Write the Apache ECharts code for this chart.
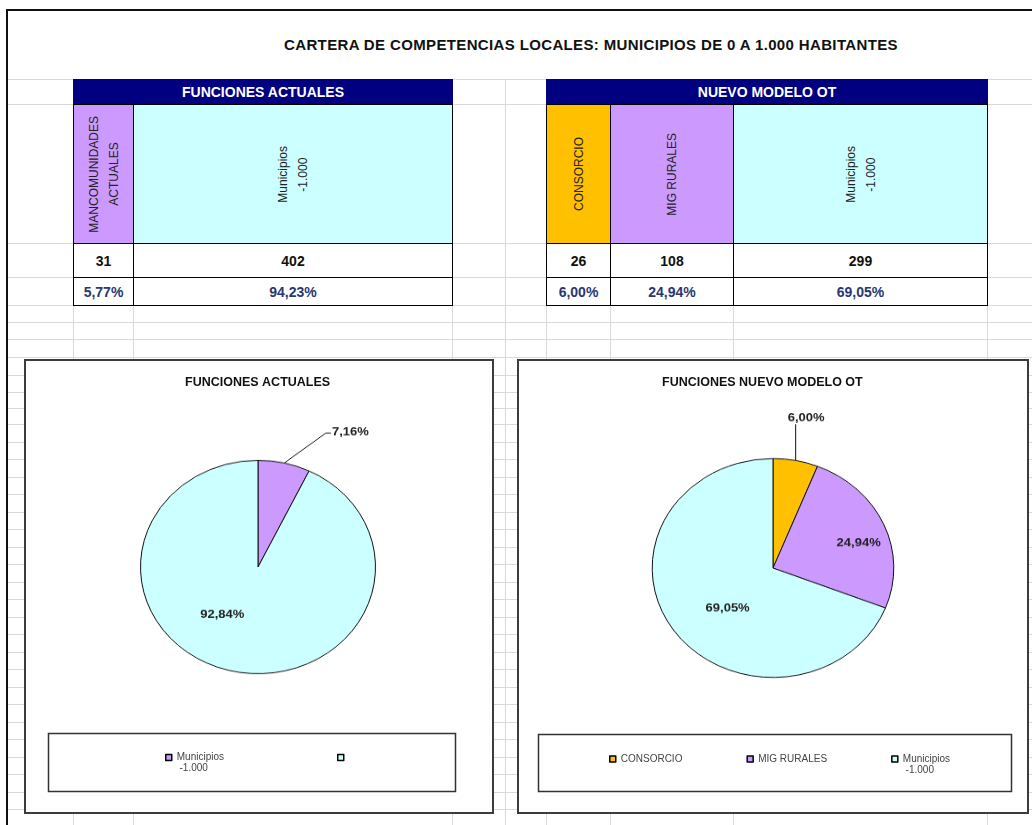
<!DOCTYPE html>
<html>
<head>
<meta charset="utf-8">
<title>Cartera de competencias locales</title>
<script src="https://cdn.jsdelivr.net/npm/echarts@6/dist/echarts.min.js"></script>
<style>
  html, body { margin: 0; padding: 0; background: #fff; }
  body { width: 1032px; height: 825px; position: relative; overflow: hidden;
         font-family: "Liberation Sans", Arial, Helvetica, sans-serif; }
  .linea { position: absolute; background: #dadada; }
  .celda { position: absolute; box-sizing: border-box; border: 1px solid #000;
           display: flex; align-items: center; justify-content: center; background: #fff; }
  .vert { writing-mode: vertical-rl; transform: rotate(180deg); white-space: pre;
          text-align: center; font-size: 12px; line-height: 20px; color: #222; }
  .valor { font-size: 14px; font-weight: bold; color: #111; }
  .pct { font-size: 14px; font-weight: bold; color: #2a3670; }
  .cabecera { position: absolute; background: #000080; color: #fff; font-size: 14px;
              font-weight: bold; display: flex; align-items: center; justify-content: center; }
  .panel { position: absolute; }
  .tarta { position: absolute; width: 360px; height: 400px; transform-origin: 50% 50%; }
</style>
</head>
<body>
<div id="hoja"></div>
<div id="titulo" style="position:absolute;left:191px;top:35px;width:800px;text-align:center;font-size:15px;font-weight:bold;color:#111;line-height:20px;letter-spacing:0.36px;">CARTERA DE COMPETENCIAS LOCALES: MUNICIPIOS DE 0 A 1.000 HABITANTES</div>
<div id="tablas"></div>
<div id="panel1" class="panel" style="left:24px;top:359px;width:470px;height:455px;"></div>
<div id="panel2" class="panel" style="left:517px;top:359px;width:512px;height:455px;"></div>
<div id="tarta1" class="tarta" style="left:77.7px;top:366.7px;transform:scaleY(0.908);"></div>
<div id="tarta2" class="tarta" style="left:592.7px;top:368px;transform:scaleY(0.906);"></div>
<script>
// datos de la tabla y de las tartas
var catActuales = ['MANCOMUNIDADES\nACTUALES', 'Municipios\n-1.000'];
var valActuales = [31, 402];
var pctActuales = [5.77, 94.23];

var catNuevo = ['CONSORCIO', 'MIG RURALES', 'Municipios\n-1.000'];
var valNuevo = [26, 108, 299];
var pctNuevo = [6.00, 24.94, 69.05];

// textos de la leyenda tal como salen en el grafico
var leyendaActuales = ['Municipios\n -1.000', ''];
var leyendaNuevo = ['CONSORCIO', 'MIG RURALES', 'Municipios\n -1.000'];

var coloresActuales = ['#CC99FF', '#CCFFFF'];
var coloresNuevo = ['#FFC000', '#CC99FF', '#CCFFFF'];

var FUENTE = "'Liberation Sans', Arial, Helvetica, sans-serif";

function coma(n) { return n.toFixed(2).replace('.', ',') + '%'; }
function suma(a) { return a.reduce(function (s, v) { return s + v; }, 0); }

// ---- cuadricula de la hoja ----
var hoja = document.getElementById('hoja');
function linea(x, y, w, h, color) {
    var d = document.createElement('div');
    d.className = 'linea';
    d.style.left = x + 'px'; d.style.top = y + 'px';
    d.style.width = w + 'px'; d.style.height = h + 'px';
    if (color) d.style.background = color;
    hoja.appendChild(d);
}
var filas = [79, 104, 243, 277, 305, 322, 339, 357, 375, 392, 408, 424];
for (var y = 441.5; y < 825; y += 17.5) filas.push(Math.round(y));
filas.forEach(function (y) { linea(8, y, 1024, 1); });
[73, 133, 452, 505, 546, 610, 733, 987].forEach(function (x) { linea(x, 79, 1, 746); });
linea(6, 9, 1026, 2, '#111');
linea(6, 9, 2, 816, '#111');

// ---- tablas ----
var tablas = document.getElementById('tablas');
function caja(cls, x0, x1, y0, y1, html, bg) {
    var d = document.createElement('div');
    d.className = cls;
    d.style.left = x0 + 'px'; d.style.top = y0 + 'px';
    d.style.width = (x1 - x0 + 1) + 'px'; d.style.height = (y1 - y0 + 1) + 'px';
    if (bg) d.style.background = bg;
    d.innerHTML = html;
    tablas.appendChild(d);
}
function tabla(titulo, cols, cats, vals, pcts, colores) {
    caja('cabecera', cols[0], cols[cols.length - 1], 79, 104, titulo);
    for (var i = 0; i < cats.length; i++) {
        caja('celda', cols[i], cols[i + 1], 104, 243, '<div class="vert">' + cats[i] + '</div>', colores[i]);
        caja('celda', cols[i], cols[i + 1], 243, 277, '<span class="valor">' + vals[i] + '</span>');
        caja('celda', cols[i], cols[i + 1], 277, 305, '<span class="pct">' + coma(pcts[i]) + '</span>');
    }
}
tabla('FUNCIONES ACTUALES', [73, 133, 452], catActuales, valActuales, pctActuales, coloresActuales);
tabla('NUEVO MODELO OT', [546, 610, 733, 987], catNuevo, valNuevo, pctNuevo, coloresNuevo);

// ---- graficos ----
function nombres(cats) { return cats.map(function (c) { return c.replace('\n', ' '); }); }

function opcionPanel(titulo, tituloLeft, cats, vals, colores, leyenda, ley) {
    var noms = nombres(cats);
    return {
        animation: false,
        backgroundColor: '#fff',
        title: {
            text: titulo, left: tituloLeft, top: 17, padding: 0,
            textStyle: { fontSize: 12.5, fontWeight: 'bold', color: '#111', fontFamily: FUENTE }
        },
        graphic: [
            { type: 'rect', silent: true, shape: { x: 1, y: 1, width: ley.w, height: 453 },
              style: { fill: 'transparent', stroke: '#3c3c3c', lineWidth: 2 } },
            { type: 'rect', silent: true, shape: ley.caja,
              style: { fill: 'transparent', stroke: '#333', lineWidth: 1.5 } }
        ],
        legend: {
            left: ley.left, top: ley.top, padding: 0, orient: 'horizontal',
            itemGap: ley.gap, itemWidth: 6, itemHeight: 6, icon: 'rect', selectedMode: false,
            itemStyle: { borderColor: '#000', borderWidth: 1.5 },
            textStyle: { fontSize: 10, color: '#444', fontFamily: FUENTE, lineHeight: 11 },
            data: noms,
            // los rotulos de dos lineas llevan una linea vacia arriba para que la
            // primera quede a la altura del icono, como en la hoja
            formatter: function (name) {
                var t = leyenda[noms.indexOf(name)];
                return t.indexOf('\n') >= 0 ? ' \n' + t : t;
            }
        },
        series: [{
            type: 'pie', radius: 0, center: [-100, -100], silent: true,
            label: { show: false }, labelLine: { show: false },
            itemStyle: { borderColor: '#000', borderWidth: 1.5 },
            data: vals.map(function (v, i) {
                return { name: noms[i], value: v, itemStyle: { color: colores[i] } };
            })
        }]
    };
}

function opcionTarta(cats, vals, colores, radio, dentro, colocar) {
    var noms = nombres(cats);
    var total = suma(vals);
    return {
        animation: false,
        backgroundColor: 'transparent',
        series: [{
            type: 'pie', radius: radio, center: ['50%', '50%'], startAngle: 90,
            avoidLabelOverlap: false, silent: true,
            itemStyle: { borderColor: '#111', borderWidth: 1 },
            label: {
                show: true, position: 'outside', fontSize: 13, fontWeight: 'bold',
                color: '#222', fontFamily: FUENTE,
                formatter: function (p) { return coma(p.value / total * 100); }
            },
            labelLine: { show: true, length: 20, length2: 5, lineStyle: { color: '#111', width: 1 } },
            labelLayout: colocar,
            data: vals.map(function (v, i) {
                var d = { name: noms[i], value: v, itemStyle: { color: colores[i] } };
                if (dentro[i]) { d.label = { position: 'inside' }; d.labelLine = { show: false }; }
                return d;
            })
        }]
    };
}

// desplazamientos de las etiquetas interiores (como en la hoja)
var mover1 = { 1: [-22, -7.6] };
var mover2 = { 1: [27.5, -2], 2: [7, 8.7] };

function centrar(p, m) {
    var r = p.labelRect;
    return { x: r.x + r.width / 2 + m[0], y: r.y + r.height / 2 + m[1], align: 'center', verticalAlign: 'middle' };
}

var panel1 = echarts.init(document.getElementById('panel1'));
panel1.setOption(opcionPanel('FUNCIONES ACTUALES', 161, catActuales, valActuales, coloresActuales, leyendaActuales,
    { w: 468, caja: { x: 24.5, y: 374.5, width: 407, height: 58 }, left: 141, top: 382, gap: 113 }));

var panel2 = echarts.init(document.getElementById('panel2'));
panel2.setOption(opcionPanel('FUNCIONES NUEVO MODELO OT', 145, catNuevo, valNuevo, coloresNuevo, leyendaNuevo,
    { w: 510, caja: { x: 21.5, y: 375.5, width: 473, height: 57 }, left: 92, top: 383.5, gap: 64 }));

var tarta1 = echarts.init(document.getElementById('tarta1'));
tarta1.setOption(opcionTarta(catActuales, valActuales, coloresActuales, 117.5, [false, true], function (p) {
    if (mover1[p.dataIndex]) return centrar(p, mover1[p.dataIndex]);
    var a = p.labelLinePoints[0];
    var b = [a[0] + 41.7, a[1] - 33];
    var c = [b[0] + 5, b[1]];
    return { x: c[0] + 1, y: c[1] - 1, align: 'left', verticalAlign: 'middle', labelLinePoints: [a, b, c] };
}));

var tarta2 = echarts.init(document.getElementById('tarta2'));
tarta2.setOption(opcionTarta(catNuevo, valNuevo, coloresNuevo, 120.8, [false, true, true], function (p) {
    if (mover2[p.dataIndex]) return centrar(p, mover2[p.dataIndex]);
    var a = p.labelLinePoints[0];
    var b = [a[0], a[1] - 40];
    return { x: a[0] + 10.5, y: a[1] - 46.5, align: 'center', verticalAlign: 'middle', labelLinePoints: [a, b, [b[0], b[1]]] };
}));
</script>
</body>
</html>
